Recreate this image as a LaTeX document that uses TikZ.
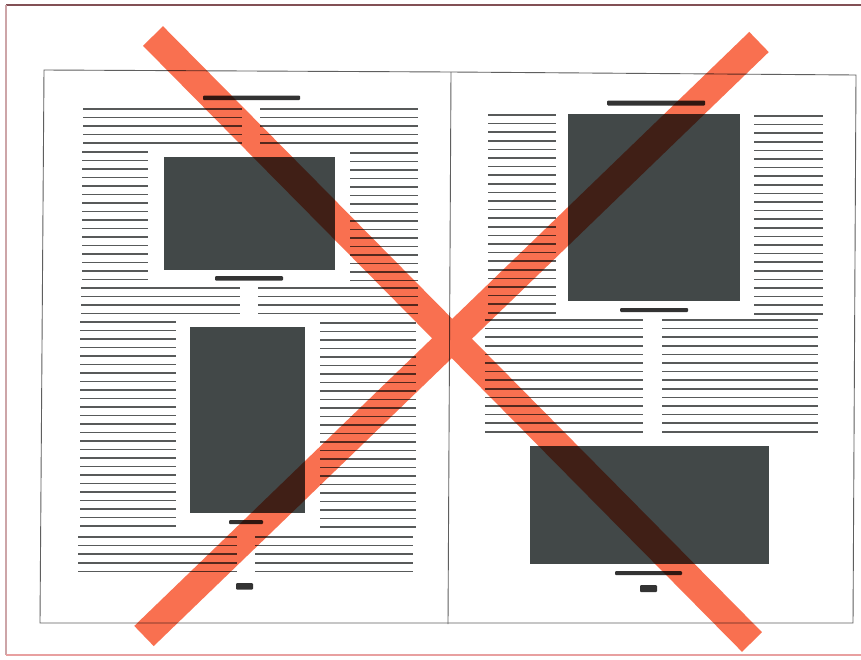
\documentclass[tikz,border=0pt]{standalone}
\definecolor{xred}{RGB}{249,112,80}
\definecolor{photo}{RGB}{66,72,72}
\definecolor{ink}{RGB}{88,90,90}
\definecolor{edge}{RGB}{95,95,95}
\tikzset{
  txt/.style={draw=ink, line width=1.6pt},
  photobox/.style={fill=photo, draw=none},
  bar/.style={fill=black!80, draw=none, rounded corners=1pt},
  pageedge/.style={draw=edge, line width=0.9pt},
  cross/.style={draw=xred, line width=28pt, line cap=butt, blend mode=multiply}
}
% x1, x2, first y, number of lines, step
\newcommand\txtlines[5]{%
  \foreach \i in {1,...,#4}{\draw[txt] (#1,{#3+(\i-1)*#5}) -- (#2,{#3+(\i-1)*#5});}}
\begin{document}
\begin{tikzpicture}[x=1pt,y=-1pt]
\useasboundingbox (0,0) rectangle (861,659);
\fill[white] (0,0) rectangle (861,659);
% scan frame
\draw[draw={rgb,255:red,130;green,80;blue,85}, line width=2.5pt] (6,5) -- (861,5);
\draw[draw={rgb,255:red,205;green,165;blue,168}, line width=2pt] (6,5) -- (6,655);
\draw[draw={rgb,255:red,232;green,160;blue,160}, line width=2pt] (6,655) -- (861,655);
% page outlines
\draw[pageedge] (44,70) -- (451,72) -- (856,75) -- (853,623) -- (40,623) -- cycle;
\draw[pageedge] (451,72) -- (448,624);
% ---------- left page ----------
\fill[bar] (203,95.5) rectangle (300,100);
\txtlines{83}{242}{109}{5}{8.5}
\txtlines{260}{418}{109}{5}{8.5}
\txtlines{82}{148}{152}{16}{8.5}
\txtlines{350}{418}{153}{16}{8.5}
\fill[photobox] (164,157) rectangle (335,270);
\fill[bar] (215,276) rectangle (283,280.5);
\txtlines{81}{240}{288}{4}{8.5}
\txtlines{258}{418}{288}{4}{8.5}
\txtlines{80}{176}{322}{25}{8.5}
\txtlines{320}{416}{323}{25}{8.5}
\fill[photobox] (190,327) rectangle (305,513);
\fill[bar] (229,520) rectangle (263,524);
\txtlines{78}{237}{537}{5}{8.6}
\txtlines{255}{413}{537}{5}{8.6}
\fill[bar] (236,583) rectangle (253,589.5);
% ---------- right page ----------
\fill[bar] (607,100.5) rectangle (705,105.5);
\txtlines{488}{556}{115}{24}{8.6}
\txtlines{754}{823}{116}{24}{8.6}
\fill[photobox] (568,114) rectangle (740,301);
\fill[bar] (620,308) rectangle (688,312);
\txtlines{485}{643}{320}{14}{8.6}
\txtlines{662}{818}{320}{14}{8.6}
\fill[photobox] (530,446) rectangle (769,564);
\fill[bar] (615,571) rectangle (682,575);
\fill[bar] (640,585) rectangle (657,592);
% ---------- red cross ----------
\coordinate (a1) at (153,36);
\coordinate (a2) at (752,642);
\coordinate (b1) at (759,42);
\coordinate (b2) at (144,636);
\draw[cross] (a1) -- (a2) (b1) -- (b2);
\end{tikzpicture}
\end{document}
